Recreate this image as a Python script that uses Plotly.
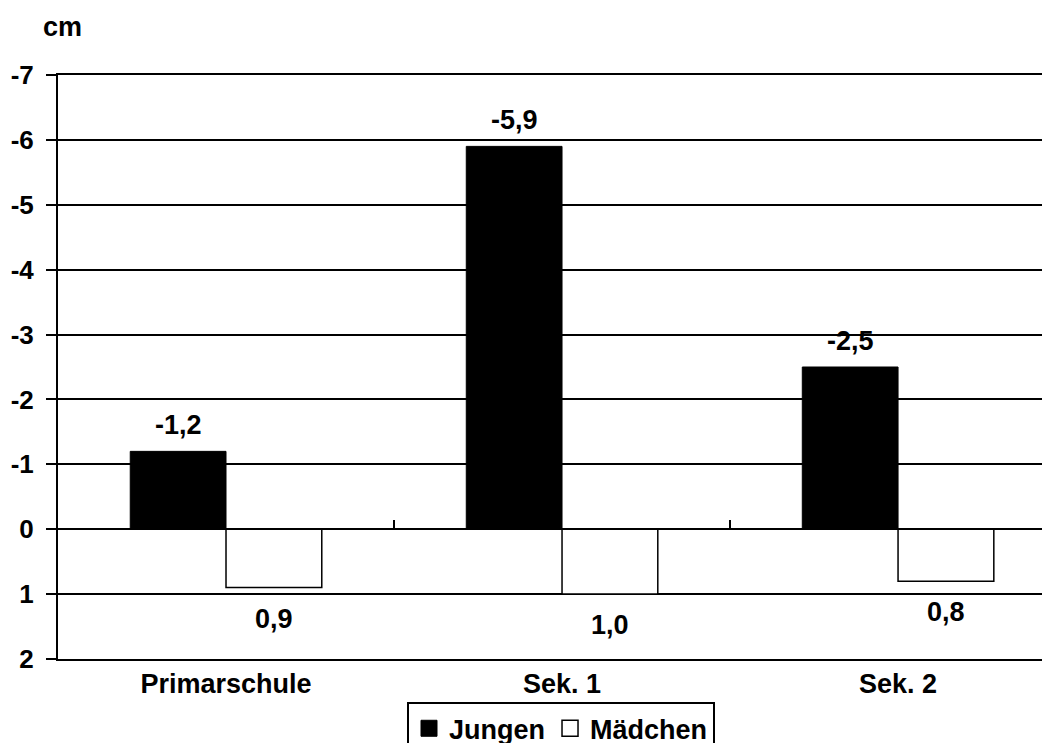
import plotly.graph_objects as go

categories = ["Primarschule", "Sek. 1", "Sek. 2"]
jungen = [-1.2, -5.9, -2.5]
maedchen = [0.9, 1.0, 0.8]
y_ticks = [-7, -6, -5, -4, -3, -2, -1, 0, 1, 2]

FONT = "Liberation Sans, Arial, sans-serif"
FS = 27
BARGAP = 0.43

def fmt(v):
    return f"{v:.1f}".replace(".", ",")

def b(s):
    return f"<b>{s}</b>"

fig = go.Figure()
fig.add_trace(go.Bar(
    x=categories, y=jungen, name=b("Jungen"), showlegend=False,
    marker=dict(color="black", line=dict(color="black", width=1)),
))
fig.add_trace(go.Bar(
    x=categories, y=maedchen, name=b("Mädchen"), showlegend=False,
    marker=dict(color="white", line=dict(color="black", width=1.5)),
))
# legend entries with larger square swatches
fig.add_trace(go.Scatter(x=[None], y=[None], mode="markers", name=b("Jungen"),
                         marker=dict(symbol="square", size=16, color="black",
                                     line=dict(color="black", width=1))))
fig.add_trace(go.Scatter(x=[None], y=[None], mode="markers", name=b("Mädchen"),
                         marker=dict(symbol="square", size=16, color="white",
                                     line=dict(color="black", width=1.5))))
# invisible trace carrying the tick marks on the zero line
fig.add_trace(go.Scatter(x=categories, y=[0, 0, 0], xaxis="x2", mode="none",
                         showlegend=False, hoverinfo="skip"))

off = (1 - BARGAP) / 4
for i, (j, m) in enumerate(zip(jungen, maedchen)):
    fig.add_annotation(x=i - off, y=j, text=b(fmt(j)), showarrow=False,
                       yanchor="middle", yshift=26,
                       font=dict(size=FS, family=FONT, color="black"))
    fig.add_annotation(x=i + off, y=m, text=b(fmt(m)), showarrow=False,
                       yanchor="middle", yshift=-31,
                       font=dict(size=FS, family=FONT, color="black"))

fig.update_layout(
    width=1050, height=743,
    margin=dict(l=50, r=0, t=67, b=92, autoexpand=False),
    paper_bgcolor="white", plot_bgcolor="white",
    barmode="group", bargap=BARGAP, bargroupgap=0,
    font=dict(family=FONT, size=FS, color="black"),
    showlegend=True,
    legend=dict(orientation="h", x=0.503, xanchor="center", y=-0.074, yanchor="top",
                bordercolor="black", borderwidth=2, bgcolor="white",
                font=dict(size=FS, family=FONT, color="black"),
                traceorder="normal", itemwidth=30, tracegroupgap=0,
                itemsizing="trace"),
)
XR = [-0.5, 2.476]
fig.update_xaxes(
    type="category", range=XR, showgrid=False, zeroline=False,
    showline=True, mirror=True, linecolor="black", linewidth=2,
    ticks="", tickfont=dict(size=FS, family=FONT),
    tickvals=categories, ticktext=[b(c) for c in categories],
)
fig.update_layout(xaxis2=dict(
    type="category", overlaying="x", anchor="free", position=2 / 9,
    range=XR, tickson="boundaries", ticks="inside", ticklen=9,
    tickcolor="black", tickwidth=1.5, showticklabels=False, showgrid=False,
    zeroline=False, showline=False, matches="x",
))
fig.update_yaxes(
    range=[2, -7], tickvals=y_ticks, ticktext=[b(str(v)) for v in y_ticks],
    showgrid=True, gridcolor="black", gridwidth=2,
    zeroline=True, zerolinecolor="black", zerolinewidth=2,
    showline=True, linecolor="black", linewidth=2,
    ticks="outside", ticklen=10, tickcolor="black", tickwidth=2,
    ticklabelstandoff=7,
    tickfont=dict(size=26, family=FONT),
)
fig.add_annotation(text=b("cm"), xref="paper", yref="paper", x=0.0, y=1.0,
                   xanchor="left", yanchor="middle", yshift=48, xshift=-17,
                   showarrow=False, font=dict(size=FS, family=FONT, color="black"))

fig.write_html("out.html")
